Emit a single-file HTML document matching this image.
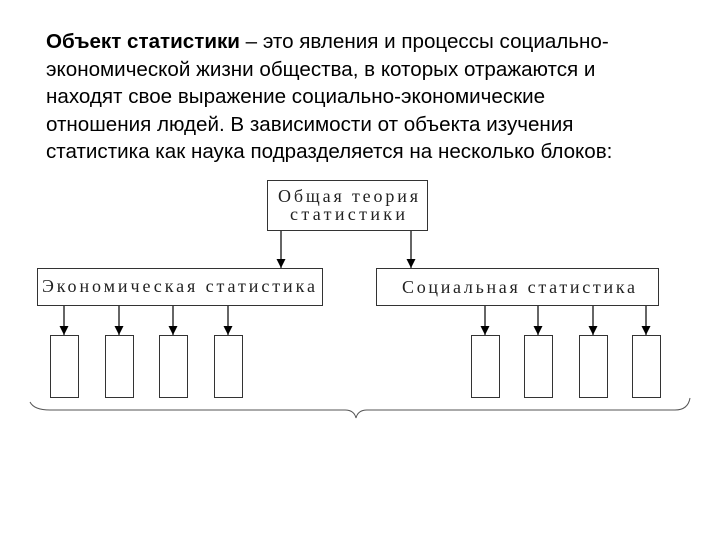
<!DOCTYPE html>
<html><head><meta charset="utf-8">
<style>
html,body{margin:0;padding:0;background:#fff;width:720px;height:540px;overflow:hidden}
.t{position:absolute;left:46px;top:28px;width:680px;font-family:"Liberation Sans",sans-serif;font-size:20.6px;line-height:27.6px;color:#000;white-space:nowrap}
svg{position:absolute;left:0;top:0}
</style></head><body>
<div class="t"><b>Объект статистики</b> – это явления и процессы социально-<br>экономической жизни общества, в которых отражаются и<br>находят свое выражение социально-экономические<br>отношения людей. В зависимости от объекта изучения<br>статистика как наука подразделяется на несколько блоков:</div>
<svg width="720" height="540" font-family="Liberation Serif, serif">
<defs><marker id="a" markerWidth="9" markerHeight="9" refX="9" refY="4.5" orient="auto" markerUnits="userSpaceOnUse"><path d="M0,0 L9,4.5 L0,9 z" fill="#000"/></marker></defs>
<g fill="none" stroke="#333" stroke-width="1">
<rect x="267.5" y="180.5" width="160" height="50"/>
<rect x="37.5" y="268.5" width="285" height="37"/>
<rect x="376.5" y="268.5" width="282" height="37"/>
<rect x="50.5" y="335.5" width="28" height="62"/>
<rect x="105.5" y="335.5" width="28" height="62"/>
<rect x="159.5" y="335.5" width="28" height="62"/>
<rect x="214.5" y="335.5" width="28" height="62"/>
<rect x="471.5" y="335.5" width="28" height="62"/>
<rect x="524.5" y="335.5" width="28" height="62"/>
<rect x="579.5" y="335.5" width="28" height="62"/>
<rect x="632.5" y="335.5" width="28" height="62"/>
</g>
<g stroke="#000" stroke-width="1.2" marker-end="url(#a)">
<line x1="281" y1="231" x2="281" y2="268"/>
<line x1="411" y1="231" x2="411" y2="268"/>
<line x1="64" y1="306" x2="64" y2="335"/>
<line x1="119" y1="306" x2="119" y2="335"/>
<line x1="173" y1="306" x2="173" y2="335"/>
<line x1="228" y1="306" x2="228" y2="335"/>
<line x1="485" y1="306" x2="485" y2="335"/>
<line x1="538" y1="306" x2="538" y2="335"/>
<line x1="593" y1="306" x2="593" y2="335"/>
<line x1="646" y1="306" x2="646" y2="335"/>
</g>
<path d="M30,402 Q34,410 50,410 L345,410 Q354,410 356,418 Q358,410 367,410 L675,410 Q688,410 690,398" fill="none" stroke="#555" stroke-width="1"/>
<g fill="#222" font-size="18">
<text x="278" y="202" textLength="140" lengthAdjust="spacing">Общая теория</text>
<text x="290" y="220" textLength="115" lengthAdjust="spacing">статистики</text>
<text x="42" y="292" textLength="273" lengthAdjust="spacing">Экономическая статистика</text>
<text x="402" y="293" textLength="233" lengthAdjust="spacing">Социальная статистика</text>
</g>
</svg>
</body></html>
